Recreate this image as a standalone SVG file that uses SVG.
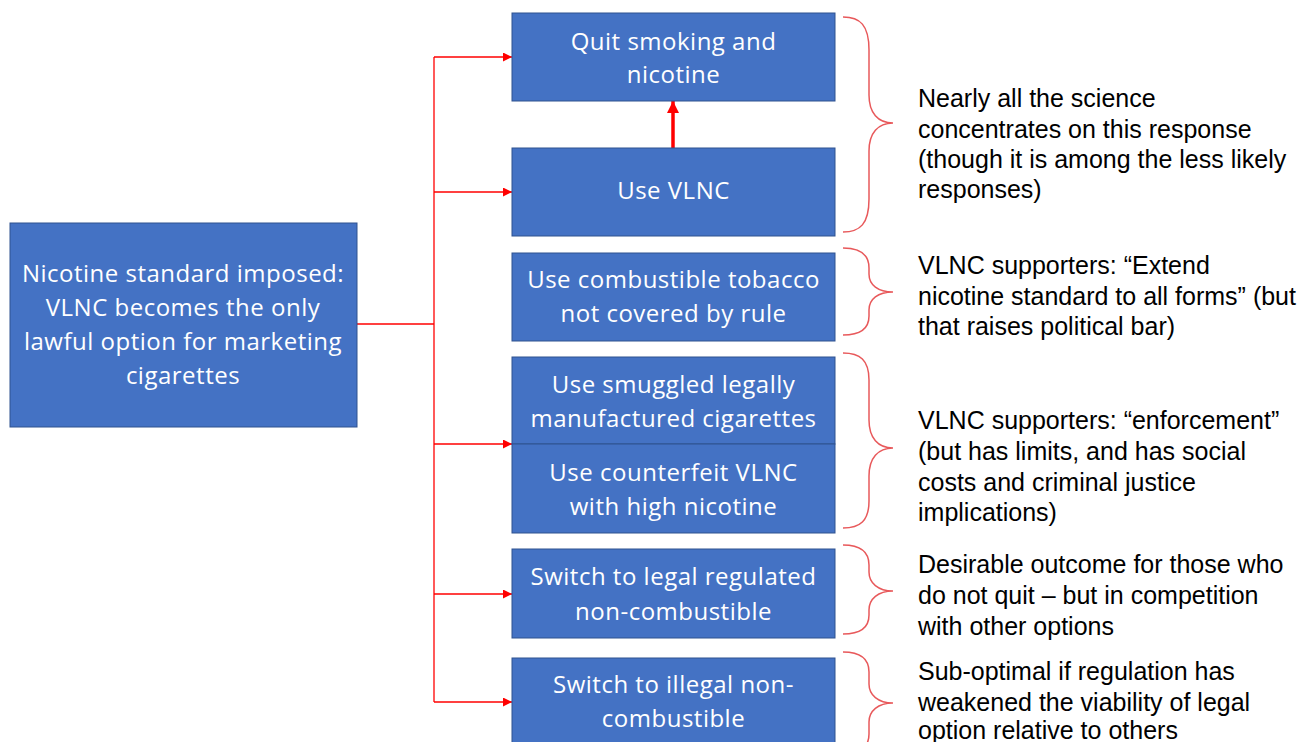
<svg xmlns="http://www.w3.org/2000/svg" width="1316" height="742" viewBox="0 0 1316 742">
<style>
.box{fill:#4472C4;stroke:#2F528F;stroke-width:1}
.bt{font-family:"Open Sans","Liberation Sans",sans-serif;font-size:24px;letter-spacing:0.5px;fill:#ffffff;text-anchor:middle}
.note{font-family:"Liberation Sans",Arial,sans-serif;font-size:25px;fill:#000000}
.conn{fill:none;stroke:#ff0000;stroke-width:1.3}
.brace{fill:none;stroke:#e8595b;stroke-width:1.5}
</style>
<defs>
<marker id="ah" viewBox="0 0 10 10" refX="10" refY="5" markerWidth="9" markerHeight="9" markerUnits="userSpaceOnUse" orient="auto">
<path d="M0,0 L10,5 L0,10 Z" fill="#ff0000"/>
</marker>
<marker id="ahb" viewBox="0 0 10 10" refX="10" refY="5" markerWidth="13" markerHeight="12" markerUnits="userSpaceOnUse" orient="auto">
<path d="M0,0 L10,5 L0,10 Z" fill="#ff0000"/>
</marker>
</defs>
<rect width="1316" height="742" fill="#ffffff"/>

<g id="connectors">
<path class="conn" d="M357,324 H434"/>
<path class="conn" d="M434,57 V702"/>
<path class="conn" d="M434,57 H512" marker-end="url(#ah)"/>
<path class="conn" d="M434,192 H512" marker-end="url(#ah)"/>
<path class="conn" d="M434,444 H512" marker-end="url(#ah)"/>
<path class="conn" d="M434,594 H512" marker-end="url(#ah)"/>
<path class="conn" d="M434,702 H512" marker-end="url(#ah)"/>
<path d="M673,148 V101" fill="none" stroke="#ff0000" stroke-width="3.5" marker-end="url(#ahb)"/>
</g>

<g id="n-source">
<rect class="box" x="10" y="223" width="347" height="204"/>
<text class="bt" x="183" y="282">Nicotine standard imposed:</text>
<text class="bt" x="183" y="316">VLNC becomes the only</text>
<text class="bt" x="183" y="350">lawful option for marketing</text>
<text class="bt" x="183" y="384">cigarettes</text>
</g>

<g id="n-quit">
<rect class="box" x="512" y="13" width="323" height="88"/>
<text class="bt" x="673.5" y="50">Quit smoking and</text>
<text class="bt" x="673.5" y="83">nicotine</text>
</g>

<g id="n-vlnc">
<rect class="box" x="512" y="148" width="323" height="88"/>
<text class="bt" x="673.5" y="199">Use VLNC</text>
</g>

<g id="n-combustible">
<rect class="box" x="512" y="253" width="323" height="88"/>
<text class="bt" x="673.5" y="288">Use combustible tobacco</text>
<text class="bt" x="673.5" y="322">not covered by rule</text>
</g>

<g id="n-smuggled">
<rect class="box" x="512" y="357" width="323" height="87"/>
<text class="bt" x="673.5" y="393">Use smuggled legally</text>
<text class="bt" x="673.5" y="427">manufactured cigarettes</text>
</g>

<g id="n-counterfeit">
<rect class="box" x="512" y="444" width="323" height="89"/>
<text class="bt" x="673.5" y="481">Use counterfeit VLNC</text>
<text class="bt" x="673.5" y="515">with high nicotine</text>
</g>

<g id="n-legal">
<rect class="box" x="512" y="549" width="323" height="89"/>
<text class="bt" x="673.5" y="585">Switch to legal regulated</text>
<text class="bt" x="673.5" y="620">non-combustible</text>
</g>

<g id="n-illegal">
<rect class="box" x="512" y="658" width="323" height="100"/>
<text class="bt" x="673.5" y="693">Switch to illegal non-</text>
<text class="bt" x="673.5" y="727">combustible</text>
</g>

<g id="braces">
<path class="brace" d="M843,17 C860,17 869,25 869,50 L869,95 C869,113 878,123 893,123 C878,123 869,133 869,151 L869,199 C869,224 860,232 843,232"/>
<path class="brace" d="M843,248 C860,248 869,254 869,268 L869,274 C869,285 878,292 893,292 C878,292 869,299 869,310 L869,316 C869,329 860,335 843,335"/>
<path class="brace" d="M843,353 C860,353 869,360 869,380 L869,420 C869,438 878,448 893,448 C878,448 869,458 869,476 L869,501 C869,521 860,528 843,528"/>
<path class="brace" d="M843,545 C860,545 869,551 869,565 L869,572 C869,583 878,591 893,591 C878,591 869,599 869,610 L869,615 C869,628 860,634 843,634"/>
<path class="brace" d="M843,652 C860,652 869,658 869,672 L869,684 C869,695 878,703 893,703 C878,703 869,711 869,722 L869,734 C869,748 860,754 843,754"/>
</g>

<g id="notes">
<text class="note" x="918" y="107">Nearly all the science</text>
<text class="note" x="918" y="138">concentrates on this response</text>
<text class="note" x="918" y="168">(though it is among the less likely</text>
<text class="note" x="918" y="198">responses)</text>

<text class="note" x="918" y="274">VLNC supporters: “Extend</text>
<text class="note" x="918" y="305">nicotine standard to all forms” (but</text>
<text class="note" x="918" y="335">that raises political bar)</text>

<text class="note" x="918" y="429">VLNC supporters: “enforcement”</text>
<text class="note" x="918" y="460">(but has limits, and has social</text>
<text class="note" x="918" y="491">costs and criminal justice</text>
<text class="note" x="918" y="521">implications)</text>

<text class="note" x="918" y="573">Desirable outcome for those who</text>
<text class="note" x="918" y="604">do not quit – but in competition</text>
<text class="note" x="918" y="635">with other options</text>

<text class="note" x="918" y="680">Sub-optimal if regulation has</text>
<text class="note" x="918" y="711">weakened the viability of legal</text>
<text class="note" x="918" y="739">option relative to others</text>
</g>
</svg>
